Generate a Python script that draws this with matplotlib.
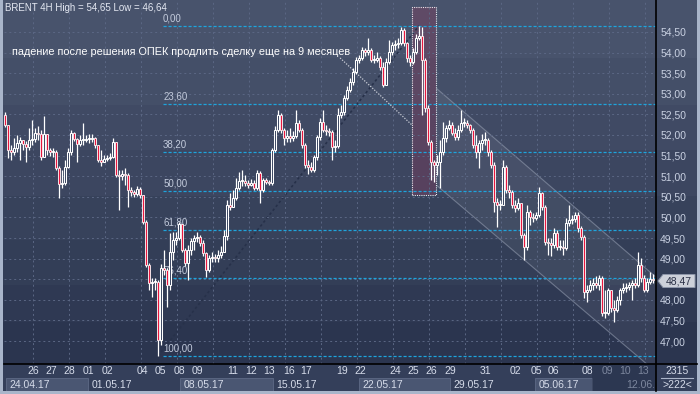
import numpy as np
import matplotlib
matplotlib.use("Agg")
import matplotlib.pyplot as plt
from matplotlib.patches import Rectangle, Polygon

plt.rcParams["font.family"] = ["Liberation Sans", "DejaVu Sans"]

# --- BRENT 4H candles (24.04.17 - 13.06.17), open = previous close
first_open = 52.49
closes = [
    52.24, 51.64, 51.59, 51.68, 51.81, 51.88, 51.78, 51.71, 51.88, 51.90, 52.05, 52.02,
    51.47, 52.02, 51.64, 51.59, 51.59, 51.20, 50.81, 50.83, 51.22, 51.59, 52.05, 51.90,
    51.78, 51.88, 51.88, 51.90, 51.90, 51.93, 51.76, 51.39, 51.34, 51.42, 51.44, 51.47,
    51.83, 51.03, 51.00, 51.05, 51.03, 50.66, 50.62, 50.57, 50.69, 50.54, 49.89, 48.84,
    48.41, 48.43, 48.43, 47.02, 48.77, 48.72, 48.36, 49.16, 49.45, 49.50, 49.84, 49.21,
    48.89, 49.21, 49.43, 49.50, 49.52, 49.38, 49.14, 48.72, 49.01, 49.04, 49.01, 49.09,
    49.16, 49.55, 50.30, 50.25, 50.47, 50.71, 50.89, 50.89, 50.83, 50.79, 50.83, 50.71,
    51.08, 50.66, 50.91, 50.86, 50.83, 51.64, 52.12, 52.49, 52.12, 51.93, 51.98, 51.93,
    51.98, 52.29, 52.12, 51.76, 51.27, 51.22, 51.15, 51.47, 51.95, 52.32, 52.12, 52.10,
    52.07, 51.71, 51.73, 52.49, 52.56, 52.90, 53.09, 53.29, 53.53, 53.82, 53.87, 54.06,
    54.01, 54.06, 53.82, 53.82, 53.87, 53.65, 53.21, 53.77, 54.01, 54.18, 54.21, 54.23,
    54.55, 54.23, 53.87, 53.77, 54.01, 54.35, 54.40, 53.82, 52.66, 51.83, 51.34, 51.27,
    51.34, 51.59, 51.93, 52.17, 52.24, 52.05, 51.95, 52.12, 52.29, 52.29, 52.24, 52.12,
    51.76, 51.59, 51.81, 51.88, 51.88, 51.59, 51.27, 50.37, 50.30, 50.30, 51.22, 50.66,
    50.62, 50.30, 50.23, 50.35, 49.57, 49.28, 50.13, 50.01, 49.99, 50.06, 50.59, 50.25,
    49.40, 49.38, 49.33, 49.62, 49.28, 49.28, 49.26, 49.86, 49.94, 49.96, 50.06, 49.74,
    49.52, 48.19, 48.24, 48.36, 48.41, 48.36, 48.53, 47.68, 47.68, 48.24, 47.80, 47.75,
    47.99, 48.24, 48.29, 48.31, 48.36, 48.41, 48.36, 48.84, 48.53, 48.24, 48.43, 48.50,
    48.47,
]
highs = [
    52.56, 52.07, 51.76, 51.93, 52.00, 51.95, 51.88, 51.85, 52.17, 52.36, 52.17, 52.22,
    52.12, 52.46, 52.02, 51.68, 51.68, 51.64, 51.25, 51.15, 51.39, 51.68, 52.12, 52.07,
    51.93, 52.00, 52.29, 52.00, 52.02, 52.02, 51.95, 51.76, 51.64, 51.51, 51.51, 51.56,
    51.93, 51.83, 51.15, 51.15, 51.20, 51.08, 50.74, 50.66, 50.76, 50.74, 50.54, 49.94,
    48.89, 48.53, 48.53, 48.48, 48.87, 49.21, 48.77, 49.62, 49.65, 49.65, 49.89, 49.84,
    49.26, 49.33, 49.50, 49.57, 49.65, 49.57, 49.45, 49.16, 49.09, 49.16, 49.11, 49.21,
    49.31, 49.69, 50.42, 50.59, 50.66, 50.96, 51.10, 51.15, 51.03, 50.91, 50.93, 50.91,
    51.15, 51.13, 50.96, 50.96, 50.91, 51.68, 52.22, 52.61, 52.53, 52.17, 52.12, 52.17,
    52.10, 52.61, 52.36, 52.17, 51.81, 51.39, 51.34, 51.51, 52.00, 52.41, 52.61, 52.24,
    52.17, 52.12, 51.88, 52.66, 52.73, 52.97, 53.19, 53.38, 53.63, 53.89, 53.94, 54.14,
    54.11, 54.35, 54.11, 53.94, 54.01, 53.92, 53.77, 53.87, 54.31, 54.26, 54.31, 54.35,
    54.62, 54.60, 54.26, 53.94, 54.11, 54.45, 54.65, 54.62, 53.87, 52.73, 51.88, 51.39,
    51.51, 51.88, 52.32, 52.24, 52.36, 52.32, 52.17, 52.24, 52.61, 52.41, 52.36, 52.27,
    52.17, 52.00, 51.88, 52.02, 52.07, 51.93, 51.64, 51.34, 50.47, 50.42, 51.39, 51.27,
    50.79, 50.66, 50.42, 50.47, 50.35, 49.62, 50.30, 50.18, 50.11, 50.13, 50.74, 50.62,
    50.30, 49.50, 49.50, 49.74, 49.69, 49.45, 49.45, 49.99, 50.30, 50.06, 50.13, 50.13,
    49.79, 49.57, 48.36, 48.48, 48.53, 48.58, 48.60, 48.58, 48.24, 48.29, 48.24, 47.99,
    48.09, 48.29, 48.41, 48.41, 48.43, 48.48, 48.53, 49.16, 49.01, 48.60, 48.53, 48.67,
    48.63,
]
lows = [
    52.19, 51.44, 51.39, 51.51, 51.59, 51.39, 51.64, 51.34, 51.64, 51.76, 51.83, 51.88,
    51.39, 51.47, 51.51, 51.49, 51.47, 51.15, 50.47, 50.71, 50.79, 51.20, 51.51, 51.85,
    51.34, 51.73, 51.76, 51.83, 51.81, 51.83, 51.68, 51.34, 51.25, 51.34, 51.37, 51.39,
    51.44, 50.98, 50.18, 50.91, 50.79, 50.25, 50.52, 50.49, 50.52, 50.47, 49.84, 48.80,
    48.24, 48.07, 48.24, 46.64, 46.90, 48.60, 47.83, 48.24, 48.97, 49.33, 49.45, 49.16,
    48.82, 48.48, 49.09, 49.21, 49.40, 49.31, 49.06, 48.55, 48.67, 48.92, 48.92, 48.92,
    49.01, 49.16, 49.45, 50.18, 50.25, 50.42, 50.66, 50.76, 50.76, 50.71, 50.76, 50.66,
    50.66, 50.35, 50.62, 50.81, 50.79, 50.79, 51.59, 52.07, 52.05, 51.76, 51.83, 51.83,
    51.85, 51.93, 52.07, 51.68, 51.20, 51.05, 51.10, 51.10, 51.39, 51.88, 52.07, 52.00,
    51.98, 51.39, 51.59, 51.68, 52.41, 52.49, 52.85, 53.04, 53.21, 53.48, 53.75, 53.82,
    53.92, 53.94, 53.77, 53.75, 53.77, 53.58, 53.16, 53.21, 53.72, 53.94, 54.06, 54.11,
    54.18, 54.16, 53.77, 53.67, 53.72, 53.97, 54.31, 52.49, 52.56, 51.76, 50.91, 50.86,
    51.03, 50.71, 51.51, 51.83, 52.12, 52.00, 51.88, 51.88, 52.07, 52.19, 52.17, 52.05,
    51.68, 51.44, 51.20, 51.64, 51.76, 51.49, 51.20, 50.13, 49.77, 50.18, 50.30, 50.59,
    50.47, 50.23, 50.13, 50.18, 49.50, 48.97, 49.21, 49.82, 49.89, 49.94, 50.01, 50.18,
    49.33, 49.09, 49.06, 49.26, 49.21, 49.21, 49.09, 49.21, 49.79, 49.84, 49.89, 49.65,
    49.45, 48.04, 47.95, 48.19, 48.24, 48.29, 48.24, 47.61, 47.56, 47.63, 47.70, 47.46,
    47.70, 47.87, 48.16, 48.19, 48.24, 47.99, 48.29, 48.31, 48.43, 48.19, 48.19, 48.38,
    48.41,
]

fib_high = 54.65
fib_low = 46.64
fib_ratios = [0.0, 0.236, 0.382, 0.5, 0.618, 0.764, 1.0]
fib_labels = ["0,00", "23,60", "38,20", "50,00", "61,80", "76,40", "100,00"]
fib_start = 52.7          # bar where the fib levels begin
low_bar, high_bar = 51, 138

price_ticks = [47.0, 47.5, 48.0, 48.5, 49.0, 49.5, 50.0, 50.5, 51.0, 51.5, 52.0, 52.5,
               53.0, 53.5, 54.0, 54.5]
last_price = 48.47

day_pos = [9.3, 15.3, 21.3, 27.7, 34.0, 45.7, 51.7, 58.3, 64.3, 76.0, 82.0, 88.0, 94.7,
           100.3, 112.3, 118.3, 130.0, 136.0, 142.0, 148.3, 160.0, 170.3, 177.0, 182.7,
           194.3, 200.7, 206.7, 212.7]
day_labels = ["26", "27", "28", "01", "02", "04", "05", "08", "09", "11", "12", "13", "16",
              "17", "19", "22", "24", "25", "26", "29", "31", "02", "05", "06",
              "08", "09", "10", "13"]
week_start = [0.3, 27.7, 58.3, 89.3, 118.0, 148.3, 176.7]
week_labels = ["24.04.17", "01.05.17", "08.05.17", "15.05.17", "22.05.17", "29.05.17",
               "05.06.17"]

# channel drawn on the decline: (bar, price) anchors
chan_up = [(144.0, 53.12), (217.0, 48.55)]
chan_dn = [(144.0, 50.77), (217.0, 46.25)]
# highlighted OPEC bars and the note pointing at them
box_bars = (135.7, 143.7)
box_prices = (50.54, 55.11)
note_from = (111.7, 53.87)
note_to = (135.7, 52.24)

W, H = 700, 394
TXT = "#d6dcea"

opens = np.r_[first_open, closes[:-1]]
closes = np.array(closes)
highs = np.maximum(np.array(highs), np.maximum(opens, closes))
lows = np.minimum(np.array(lows), np.minimum(opens, closes))
n = len(closes)
x = np.arange(n)

fig = plt.figure(figsize=(W / 100, H / 100), dpi=100)

# background bands (dark slate gradient)
bg = fig.add_axes([0, 0, 1, 1], zorder=0)
bg.set_axis_off()
edges = [0, 58, 105, 150, 196, 240, 285, 322, 364]
top_c = np.array([72, 83, 108]) / 255
bot_c = np.array([43, 53, 79]) / 255
for k in range(len(edges) - 1):
    t = k / (len(edges) - 2)
    bg.add_patch(Rectangle((0, edges[k]), W, edges[k + 1] - edges[k],
                           color=top_c * (1 - t) + bot_c * t, lw=0))
bg.add_patch(Rectangle((0, 364), W, 30, color="#343f5a", lw=0))
bg.set_xlim(0, W)
bg.set_ylim(H, 0)

# main price axes
ax = fig.add_axes([4 / W, 30 / H, 652 / W, 362 / H], zorder=1)
ax.patch.set_alpha(0)
ax.set_xlim(-0.33, 217)
ax.set_ylim(46.442, 55.228)
for s in ax.spines.values():
    s.set_visible(False)

ax.set_yticks(price_ticks)
# the 48,50 label sits under the last-price tag
ax.set_yticklabels(["" if abs(p - last_price) < 0.2 else f"{p:.2f}".replace(".", ",")
                    for p in price_ticks])
ax.yaxis.tick_right()
ax.tick_params(axis="y", length=0, pad=3, labelsize=7.5, labelcolor="#c9d1e2")
ax.set_xticks(np.arange(9.5, 217, 12))
ax.tick_params(axis="x", length=0, labelbottom=False)
ax.grid(True, color="#5b6784", lw=0.7, ls=(0, (2, 3)))

# channel
ax.add_patch(Polygon([chan_up[0], chan_up[1], chan_dn[1], chan_dn[0]],
                     closed=True, facecolor="white", alpha=0.06, lw=0, zorder=1))
for a, b in (chan_up, chan_dn):
    ax.plot([a[0], b[0]], [a[1], b[1]], color="#9aa3b6", lw=0.8, alpha=0.55, zorder=1)

# highlight box
ax.add_patch(Rectangle((box_bars[0], box_prices[0]), box_bars[1] - box_bars[0],
                       box_prices[1] - box_prices[0], facecolor="#8a3a5c", alpha=0.35,
                       lw=0, zorder=1))
ax.add_patch(Rectangle((box_bars[0], box_prices[0]), box_bars[1] - box_bars[0],
                       box_prices[1] - box_prices[0], facecolor="none",
                       edgecolor="#e8e8ee", lw=0.8, ls=(0, (1, 1)), zorder=4))

# fib trend line and levels
ax.plot([low_bar, high_bar], [fib_low, fib_high], color="#27314a", lw=1.2,
        ls=(0, (1.5, 1.5)), zorder=1)
rng = fib_high - fib_low
for r, lab in zip(fib_ratios, fib_labels):
    lvl = fib_high - r * rng
    ax.hlines(lvl, fib_start, 217, colors="#1ea4dc", lw=0.9, ls=(0, (2.5, 1.5)), zorder=2)
    ax.annotate(lab, (fib_start, lvl), xytext=(0, 1.5), textcoords="offset points",
                ha="left", va="bottom", fontsize=7, color="#c3cbdc", zorder=2)

# note leader
ax.plot([note_from[0], note_to[0]], [note_from[1], note_to[1]], color="#c8ccd6",
        lw=0.9, ls=(0, (1, 1.2)), zorder=2)

# candles
up = closes >= opens
body_lo = np.minimum(opens, closes)
body_hi = np.maximum(opens, closes)
ax.vlines(x, body_hi, highs, color="white", lw=0.9, zorder=3)
ax.vlines(x, lows, body_lo, color="white", lw=0.9, zorder=3)
height = np.maximum(body_hi - body_lo, 0.025)
ax.bar(x[up], height[up], bottom=body_lo[up], width=0.62, facecolor="#3a4560",
       edgecolor="white", lw=0.75, zorder=3)
ax.bar(x[~up], height[~up], bottom=body_lo[~up], width=0.62, facecolor="#e8173f",
       edgecolor="#f6e4e8", lw=0.7, zorder=3)

# date strip
ax_x = fig.add_axes([4 / W, 3 / H, 652 / W, 27 / H], zorder=1)
ax_x.set_xlim(-0.33, 217)
ax_x.set_ylim(27, 0)
ax_x.set_axis_off()
for k, (ws, wl) in enumerate(zip(week_start, week_labels)):
    we = week_start[k + 1] if k + 1 < len(week_start) else 195.7
    if k % 2 == 0:
        ax_x.add_patch(Rectangle((ws, 13.5), we - ws, 13, facecolor="#4a5672",
                                 edgecolor="#5e6a86", lw=0.6))
    ax_x.text(ws + 1.2, 20.5, wl, fontsize=7.5, color=TXT, ha="left", va="center")
ax_x.add_patch(Rectangle((195.7, 0), 22, 27, facecolor="#27314a", alpha=0.55, lw=0,
                         zorder=3))
ax_x.text(216.8, 20.5, "12.06.", fontsize=7.5, color="#7d879e", ha="right", va="center")
for p, d in zip(day_pos, day_labels):
    faded = p > 195.7
    ax_x.text(p, 7.5, d, fontsize=7.5, color="#7d879e" if faded else TXT,
              ha="center", va="center", zorder=4)

# overlay in pixel coords: frame, header, note, last price tag
ov = fig.add_axes([0, 0, 1, 1], zorder=5)
ov.patch.set_alpha(0)
ov.set_axis_off()
ov.set_xlim(0, W)
ov.set_ylim(H, 0)
ov.plot([656, 656], [0, 391], color="black", lw=1.2)
ov.plot([4, 697], [364, 364], color="black", lw=1.2)
ov.plot([661, 693], [378, 378], color="#aab4c8", lw=0.8)
ov.text(677, 371.5, "2315", fontsize=7.5, color=TXT, ha="center", va="center")
ov.text(677, 384.5, ">222<", fontsize=7.5, color=TXT, ha="center", va="center")
ov.add_patch(Rectangle((0, 0), 3, H, color="#a9b5ca", lw=0))
ov.add_patch(Rectangle((0, 391), W, 3, color="#a9b5ca", lw=0))
ov.add_patch(Rectangle((697, 0), 3, H, color="#a9b5ca", lw=0))

ov.text(5, 8, "BRENT 4H High = 54,65 Low = 46,64", fontsize=7, color="#e4e8f2",
        ha="left", va="center")
ov.text(12, 52, "падение после решения ОПЕК продлить сделку еще на 9 месяцев",
        fontsize=7.8, color="white", ha="left", va="center")

ty = 281
ov.add_patch(Polygon([(658, ty), (663, ty - 6.5), (695, ty - 6.5), (695, ty + 6.5),
                      (663, ty + 6.5)], closed=True, facecolor="#cdd1da",
                     edgecolor="#8e97aa", lw=0.7))
ov.text(666, ty, f"{last_price:.2f}".replace(".", ","), fontsize=7.5, color="#2b3146",
        ha="left", va="center")

fig.savefig("out.png", dpi=100)
